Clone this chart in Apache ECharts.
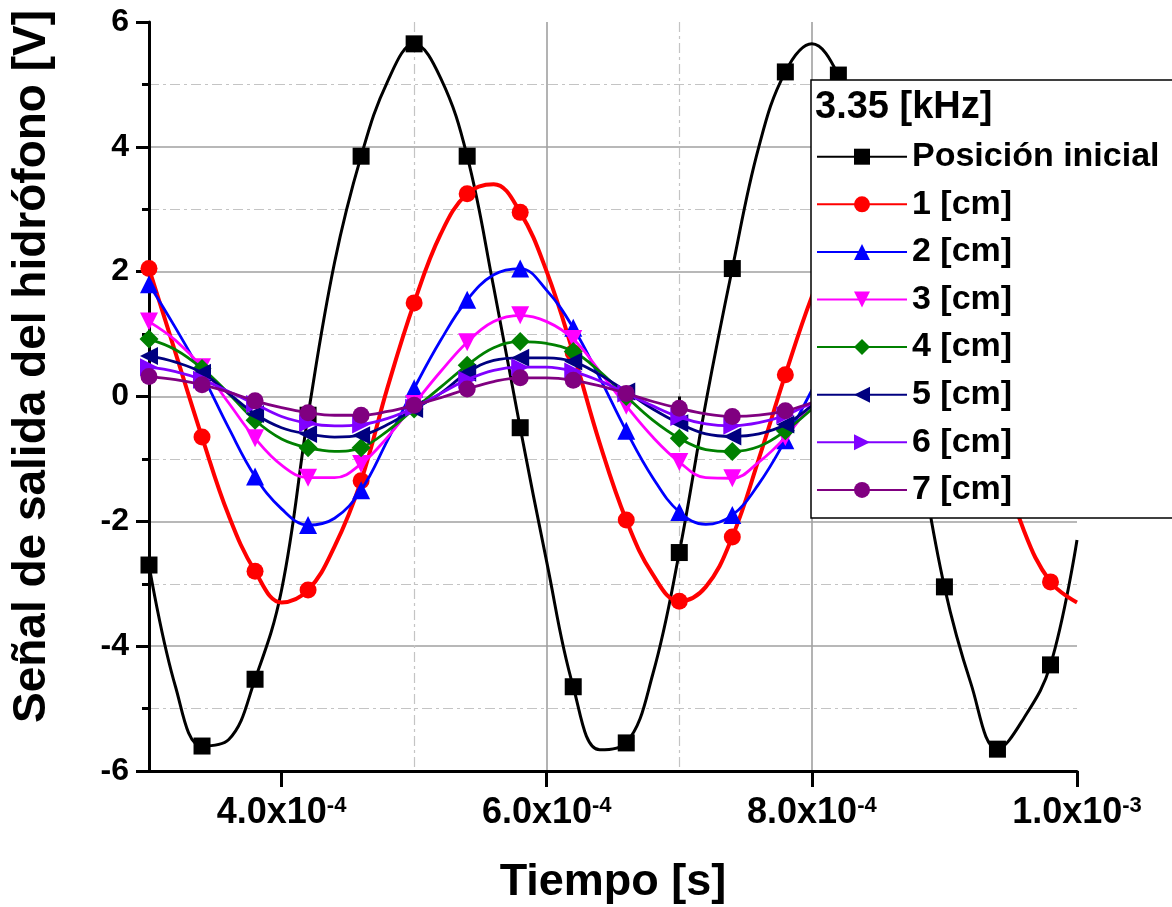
<!DOCTYPE html>
<html>
<head>
<meta charset="utf-8">
<script src="https://cdn.jsdelivr.net/npm/echarts@6/dist/echarts.min.js"></script>
<style>
  html, body { margin: 0; padding: 0; background: #ffffff; }
  #chart { width: 1172px; height: 907px; }
</style>
</head>
<body>
<div id="chart"></div>
<script>
// Tiempo de muestreo [s]
const tiempo = [3.0e-4, 3.2e-4, 3.4e-4, 3.6e-4, 3.8e-4, 4.0e-4, 4.2e-4, 4.4e-4, 4.6e-4, 4.8e-4,
                5.0e-4, 5.2e-4, 5.4e-4, 5.6e-4, 5.8e-4, 6.0e-4, 6.2e-4, 6.4e-4, 6.6e-4, 6.8e-4,
                7.0e-4, 7.2e-4, 7.4e-4, 7.6e-4, 7.8e-4, 8.0e-4, 8.2e-4, 8.4e-4, 8.6e-4, 8.8e-4,
                9.0e-4, 9.2e-4, 9.4e-4, 9.6e-4, 9.8e-4, 1.0e-3];

// Señal del hidrófono [V] para cada posición
const posicionInicial = [-2.7, -4.65, -5.6, -5.5, -4.53, -3.1, -0.3, 2.15, 3.85, 5.05,
                         5.65, 5.1, 3.85, 1.75, -0.5, -2.65, -4.65, -5.66, -5.55, -4.45,
                         -2.5, -0.1, 2.05, 4.0, 5.2, 5.65, 5.15, 4.0, 1.6, -0.75,
                         -3.05, -4.6, -5.65, -5.15, -4.3, -2.3];
const pos1cm = [2.05, 0.7, -0.65, -1.9, -2.8, -3.3, -3.1, -2.4, -1.35, 0.15,
                1.5, 2.6, 3.25, 3.4, 2.95, 2.0, 0.7, -0.75, -1.98, -2.85,
                -3.28, -3.05, -2.25, -1.0, 0.35, 1.6, 2.6, 3.2, 3.3, 2.95,
                2.0, 0.75, -0.8, -2.15, -2.97, -3.3];
const pos2cm = [1.8, 1.1, 0.35, -0.5, -1.28, -1.8, -2.06, -1.95, -1.5, -0.7,
                0.13, 0.9, 1.55, 1.95, 2.05, 1.7, 1.1, 0.3, -0.55, -1.3,
                -1.85, -2.05, -1.9, -1.4, -0.7, 0.1, 0.9, 1.5, 1.95, 2.0,
                1.7, 1.1, 0.3, -0.5, -1.3, -1.8];
const pos3cm = [1.2, 0.9, 0.47, -0.1, -0.67, -1.1, -1.3, -1.3, -1.08, -0.65,
                -0.12, 0.4, 0.87, 1.2, 1.3, 1.2, 0.92, 0.4, -0.15, -0.65,
                -1.05, -1.3, -1.31, -1.05, -0.65, -0.1, 0.45, 0.9, 1.2, 1.3,
                1.15, 0.8, 0.3, -0.25, -0.75, -1.1];
const pos4cm = [0.92, 0.75, 0.45, 0.05, -0.38, -0.68, -0.82, -0.88, -0.82, -0.55,
                -0.2, 0.15, 0.5, 0.78, 0.88, 0.85, 0.72, 0.4, 0.0, -0.38,
                -0.67, -0.85, -0.88, -0.8, -0.55, -0.2, 0.2, 0.55, 0.8, 0.88,
                0.8, 0.55, 0.2, -0.2, -0.55, -0.78];
const pos5cm = [0.65, 0.55, 0.38, 0.05, -0.28, -0.5, -0.6, -0.65, -0.62, -0.45,
                -0.2, 0.05, 0.38, 0.58, 0.62, 0.62, 0.56, 0.35, 0.08, -0.2,
                -0.43, -0.6, -0.64, -0.6, -0.45, -0.15, 0.15, 0.4, 0.58, 0.62,
                0.55, 0.38, 0.12, -0.15, -0.4, -0.55];
const pos6cm = [0.47, 0.4, 0.27, 0.08, -0.12, -0.32, -0.43, -0.47, -0.45, -0.35,
                -0.18, 0.05, 0.27, 0.42, 0.47, 0.47, 0.4, 0.25, 0.05, -0.15,
                -0.33, -0.44, -0.47, -0.42, -0.3, -0.1, 0.12, 0.3, 0.43, 0.47,
                0.42, 0.28, 0.08, -0.12, -0.3, -0.42];
const pos7cm = [0.32, 0.27, 0.19, 0.07, -0.07, -0.18, -0.26, -0.3, -0.3, -0.24,
                -0.14, -0.02, 0.12, 0.24, 0.3, 0.3, 0.26, 0.17, 0.05, -0.08,
                -0.19, -0.28, -0.32, -0.3, -0.23, -0.1, 0.05, 0.18, 0.28, 0.32,
                0.3, 0.2, 0.07, -0.07, -0.2, -0.28];

// Ticks del eje de tiempo
const ticksMayores = [4.0e-4, 6.0e-4, 8.0e-4, 1.0e-3];
const ticksMenores = [3.0e-4, 5.0e-4, 7.0e-4, 9.0e-4];

const FONT = '"Liberation Sans", Arial, sans-serif';

const curvas = [
  { name: 'Posición inicial', valores: posicionInicial, color: '#000000', symbol: 'rect',     rotate: 0,   size: 17, width: 3 },
  { name: '1 [cm]',           valores: pos1cm,          color: '#ff0000', symbol: 'circle',   rotate: 0,   size: 17, width: 4 },
  { name: '2 [cm]',           valores: pos2cm,          color: '#0000ff', symbol: 'triangle', rotate: 0,   size: 18, width: 2.8 },
  { name: '3 [cm]',           valores: pos3cm,          color: '#ff00ff', symbol: 'triangle', rotate: 180, size: 18, width: 2.8 },
  { name: '4 [cm]',           valores: pos4cm,          color: '#008000', symbol: 'diamond',  rotate: 0,   size: 19, width: 2.8 },
  { name: '5 [cm]',           valores: pos5cm,          color: '#000080', symbol: 'triangle', rotate: 90,  size: 18, width: 2.8 },
  { name: '6 [cm]',           valores: pos6cm,          color: '#8000ff', symbol: 'triangle', rotate: -90, size: 18, width: 2.8 },
  { name: '7 [cm]',           valores: pos7cm,          color: '#800080', symbol: 'circle',   rotate: 0,   size: 17, width: 2.8 }
];

// Marcador cada dos muestras; el resto sólo traza la línea
function puntos(valores) {
  return tiempo.map((t, i) => (i % 2 === 0)
    ? [t, valores[i]]
    : { value: [t, valores[i]], symbol: 'none' });
}

// Cada curva se dibuja encima de la anterior
const series = curvas.map((c, i) => ({
  name: c.name,
  type: 'line',
  xAxisIndex: 0,
  yAxisIndex: 0,
  data: puntos(c.valores),
  smooth: 0.4,
  symbol: c.symbol,
  symbolSize: c.size,
  symbolRotate: c.rotate,
  color: c.color,
  lineStyle: { color: c.color, width: c.width },
  itemStyle: { color: c.color, borderWidth: 0 },
  z: 2 + i,
  emphasis: { disabled: true }
}));

function etiquetaTiempo(v) {
  const e = Math.floor(Math.log10(v) + 1e-9);
  const m = v / Math.pow(10, e);
  return '{b|' + m.toFixed(1) + 'x10}{s|' + e + '}';
}

const gridMayor = { color: '#a0a0a0', width: 1.6, type: 'solid' };
const gridMenor = { color: '#c4c4c4', width: 1.2, type: [10, 4, 3, 4] };

const chart = echarts.init(document.getElementById('chart'), null, { renderer: 'canvas' });
chart.setOption({
  animation: false,
  backgroundColor: '#ffffff',
  textStyle: { fontFamily: FONT },
  grid: { left: 149, right: 95, top: 22, bottom: 136, containLabel: false, outerBoundsMode: 'none' },
  xAxis: [
    {
      type: 'value', position: 'bottom',
      min: 3.0e-4, max: 1.0e-3, interval: 1.0e-4,
      name: 'Tiempo [s]', nameLocation: 'middle', nameGap: 89, nameMoveOverlap: false,
      nameTextStyle: { fontFamily: FONT, fontSize: 45, fontWeight: 'bold', color: '#000' },
      axisLine: { show: true, onZero: false, lineStyle: { color: '#000', width: 3 } },
      axisTick: { show: true, inside: false, length: 16, customValues: ticksMayores, lineStyle: { color: '#000', width: 3 } },
      axisLabel: {
        show: true, margin: 24, customValues: ticksMayores, formatter: etiquetaTiempo,
        rich: {
          b: { fontFamily: FONT, fontSize: 36, fontWeight: 'bold', color: '#000', lineHeight: 36 },
          s: { fontFamily: FONT, fontSize: 22, fontWeight: 'bold', color: '#000', lineHeight: 16, verticalAlign: 'top' }
        }
      },
      splitLine: { show: true, showMinLine: false, showMaxLine: false, lineStyle: gridMayor }
    },
    {
      type: 'value', position: 'bottom',
      min: 3.0e-4, max: 1.0e-3, interval: 1.0e-4,
      axisLine: { show: false },
      axisTick: { show: true, inside: false, length: 8, customValues: ticksMenores, lineStyle: { color: '#000', width: 3 } },
      axisLabel: { show: false },
      splitLine: { show: true, showMinLine: false, showMaxLine: false, lineStyle: gridMenor }
    }
  ],
  yAxis: {
    type: 'value',
    min: -6, max: 6, interval: 2,
    name: 'Señal de salida del hidrófono [V]', nameLocation: 'middle', nameGap: 94, nameMoveOverlap: false,
    nameTextStyle: { fontFamily: FONT, fontSize: 46, fontWeight: 'bold', color: '#000', padding: [0, 0, 0, 60] },
    axisLine: { show: true, onZero: false, lineStyle: { color: '#000', width: 3 } },
    axisTick: { show: true, inside: false, length: 13, lineStyle: { color: '#000', width: 3 } },
    minorTick: { show: true, splitNumber: 2, length: 7, lineStyle: { color: '#000', width: 3 } },
    axisLabel: { margin: 20, fontFamily: FONT, fontSize: 32, fontWeight: 'bold', color: '#000' },
    splitLine: { show: true, showMinLine: false, showMaxLine: false, lineStyle: gridMayor },
    minorSplitLine: { show: true, lineStyle: gridMenor }
  },
  legend: {
    orient: 'vertical',
    left: 816, top: 136.7,
    padding: 0,
    itemWidth: 90, itemHeight: 20, itemGap: 7.6,
    selectedMode: false,
    backgroundColor: 'transparent',
    textStyle: { fontFamily: FONT, fontSize: 34, fontWeight: 'bold', color: '#000', lineHeight: 40 },
    z: 200
  },
  graphic: [
    { type: 'rect', shape: { x: 811, y: 80, width: 380, height: 438 },
      style: { fill: '#ffffff', stroke: '#000000', lineWidth: 1.5 }, z: 150 },
    { type: 'text', x: 815, y: 108, z: 200,
      style: { text: '3.35 [kHz]', font: 'bold 38px ' + FONT, fill: '#000000', verticalAlign: 'middle', align: 'left' } }
  ],
  series: series
});
</script>
</body>
</html>
